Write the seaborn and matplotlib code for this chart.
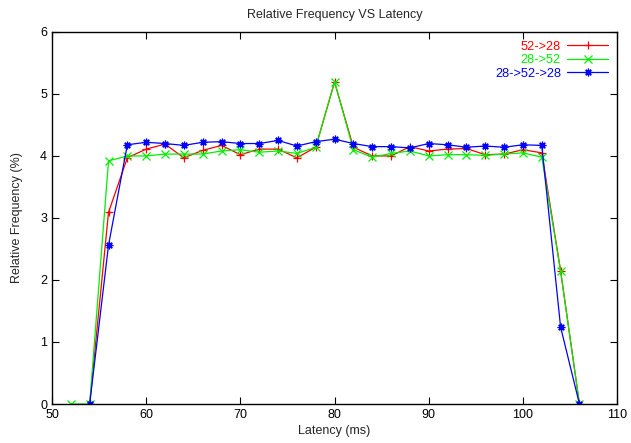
import pandas as pd
import matplotlib
matplotlib.use('Agg')
import matplotlib.pyplot as plt
import seaborn as sns

# Latency bins (ms)
latency_green = [52, 54, 56, 58, 60, 62, 64, 66, 68, 70, 72, 74, 76, 78, 80,
                 82, 84, 86, 88, 90, 92, 94, 96, 98, 100, 102, 104, 106]
latency_rb = latency_green[1:]

# Relative frequency (%) per series
freq_52_28 = [0, 3.09, 3.97, 4.11, 4.19, 3.97, 4.09, 4.17, 4.02, 4.11, 4.11, 3.97, 4.14,
              5.19, 4.14, 4.0, 4.0, 4.15, 4.08, 4.11, 4.12, 4.02, 4.03, 4.1, 4.05, 2.15, 0]
freq_28_52 = [0, 0, 3.92, 4.0, 4.0, 4.03, 4.03, 4.03, 4.08, 4.1, 4.06, 4.08, 4.04, 4.14,
              5.2, 4.1, 3.98, 4.04, 4.08, 4.0, 4.02, 4.02, 4.01, 4.03, 4.05, 3.98, 2.14, 0]
freq_28_52_28 = [0, 2.56, 4.18, 4.22, 4.2, 4.17, 4.22, 4.23, 4.2, 4.2, 4.25, 4.16, 4.23,
                 4.27, 4.2, 4.15, 4.15, 4.13, 4.2, 4.18, 4.14, 4.16, 4.14, 4.18, 4.17, 1.24, 0]

series = ['52->28', '28->52', '28->52->28']

df = pd.concat([
    pd.DataFrame({'latency': latency_rb, 'freq': freq_52_28, 'series': series[0]}),
    pd.DataFrame({'latency': latency_green, 'freq': freq_28_52, 'series': series[1]}),
    pd.DataFrame({'latency': latency_rb, 'freq': freq_28_52_28, 'series': series[2]}),
])

sns.set_style('ticks')
plt.rcParams['font.family'] = ['Liberation Sans', 'DejaVu Sans']
plt.rcParams['font.size'] = 9

fig = plt.figure(figsize=(6.31, 4.43), dpi=100)
ax = fig.add_axes([0.0824, 0.088, 0.8956, 0.84])

colors = {'52->28': '#ff0000', '28->52': '#00ee00', '28->52->28': '#0000ff'}
markers = {'52->28': '+', '28->52': 'x', '28->52->28': (8, 2, 0)}

for name in series:
    sub = df[df['series'] == name]
    sns.lineplot(data=sub, x='latency', y='freq', color=colors[name],
                 marker=markers[name], markersize=5.5, markeredgecolor=colors[name],
                 markeredgewidth=0.9, linewidth=0.9, label=name, ax=ax)

ax.set_xlim(50, 110)
ax.set_ylim(0, 6)
ax.set_xticks(range(50, 111, 10))
ax.set_yticks(range(0, 7))
ax.tick_params(direction='in', top=True, right=True, length=5, width=0.8,
               labelsize=9, colors='black')
for s in ax.spines.values():
    s.set_linewidth(1.0)
    s.set_color('black')

ax.set_title('Relative Frequency VS Latency', fontsize=9, pad=10)
ax.set_xlabel('Latency (ms)', fontsize=9, labelpad=3)
ax.set_ylabel('Relative Frequency (%)', fontsize=9, labelpad=12)

leg = ax.legend(loc='upper right', frameon=False, markerfirst=False,
                labelcolor='linecolor', fontsize=9.2, handlelength=3.2,
                handletextpad=0.5, labelspacing=0.12, borderaxespad=0.3)

fig.savefig('out.png', dpi=100)
